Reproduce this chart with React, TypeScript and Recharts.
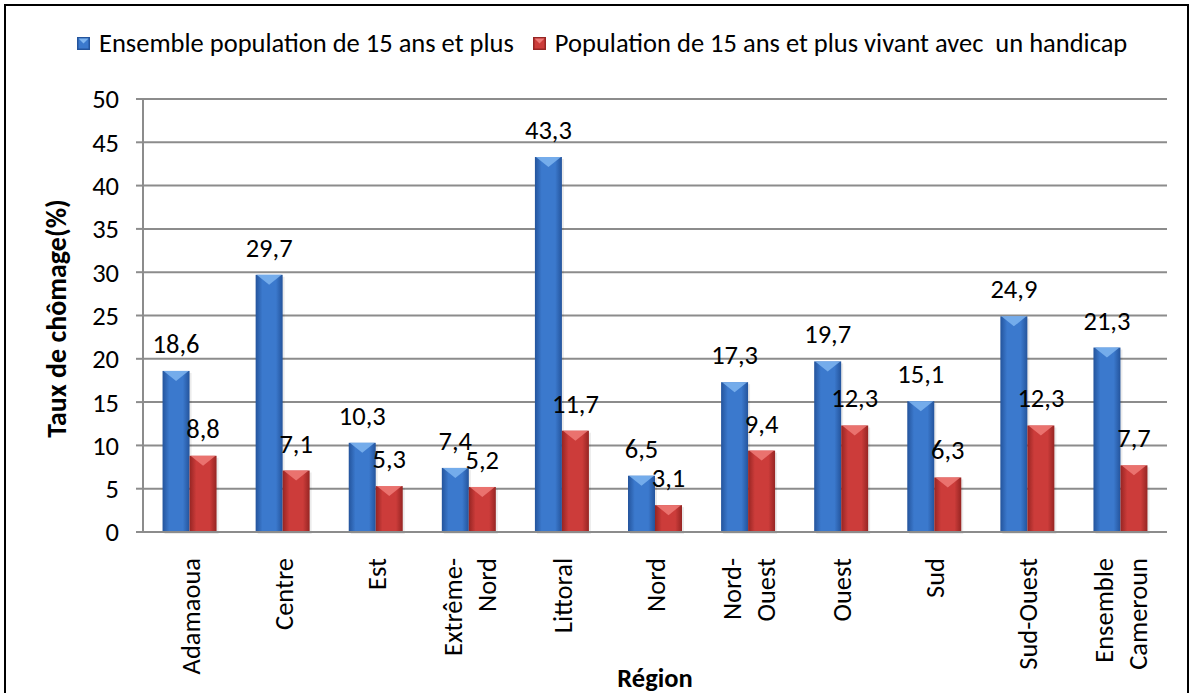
import React from "react";
import {
  BarChart,
  Bar,
  XAxis,
  YAxis,
  CartesianGrid,
  Legend,
  LabelList,
  Label,
} from "recharts";

// values
const regions = [
  "Adamaoua",
  "Centre",
  "Est",
  "Extrême-\nNord",
  "Littoral",
  "Nord",
  "Nord-\nOuest",
  "Ouest",
  "Sud",
  "Sud-Ouest",
  "Ensemble\nCameroun",
];
const ensemble = [18.6, 29.7, 10.3, 7.4, 43.3, 6.5, 17.3, 19.7, 15.1, 24.9, 21.3];
const handicap = [8.8, 7.1, 5.3, 5.2, 11.7, 3.1, 9.4, 12.3, 6.3, 12.3, 7.7];
const yTicks = [0, 5, 10, 15, 20, 25, 30, 35, 40, 45, 50];

const seriesNames = [
  "Ensemble population de 15 ans et plus",
  "Population de 15 ans et plus vivant avec  un handicap",
];

const data = regions.map((region, i) => ({
  region,
  ensemble: ensemble[i],
  handicap: handicap[i],
}));

const FONT = "Carlito, Calibri, Lato, sans-serif";
const FS = 26.5;
const GRID = "#8c8c8c";

const palettes: Record<string, { main: string; edge: string; light: string }> = {
  blue: { main: "#3b79cd", edge: "#24549c", light: "#7fb5f0" },
  red: { main: "#cc3c3a", edge: "#962523", light: "#ee7b78" },
};

const fmt = (v: number) => v.toFixed(1).replace(".", ",");

const BevelBar = (props: any) => {
  const { x, y, width, height, index, kind } = props;
  if (!height || height <= 0) return null;
  const p = palettes[kind];
  const id = `${kind}-${index}`;
  const tip = Math.min(10, height / 2);
  return (
    <g>
      <defs>
        <linearGradient id={`body-${id}`} x1="0" y1="0" x2="1" y2="0">
          <stop offset="0%" stopColor={p.edge} />
          <stop offset="25%" stopColor={p.main} />
          <stop offset="75%" stopColor={p.main} />
          <stop offset="100%" stopColor={p.edge} />
        </linearGradient>
      </defs>
      <rect x={x + 2} y={y + 2} width={width} height={height} fill="rgba(0,0,0,0.08)" />
      <rect x={x} y={y} width={width} height={height} fill={`url(#body-${id})`} />
      <polygon
        points={`${x + 1},${y} ${x + width - 1},${y} ${x + width / 2},${y + tip}`}
        fill={p.light}
        opacity={0.85}
      />
    </g>
  );
};

const RegionTick = (props: any) => {
  const { x, y, payload } = props;
  const lines = String(payload.value).split("\n");
  const first = 10 - ((lines.length - 1) * 34) / 2;
  return (
    <g transform={`translate(${x},${y})`}>
      <text transform="rotate(-90)" textAnchor="end" fontSize={FS} fill="#000" fontFamily={FONT}>
        {lines.map((l, i) => (
          <tspan key={i} x={-26} y={first + i * 34}>
            {l}
          </tspan>
        ))}
      </text>
    </g>
  );
};

const LegendIcon = ({ kind }: { kind: string }) => {
  const p = palettes[kind];
  return (
    <svg width={13} height={13} style={{ display: "block" }}>
      <rect x={0} y={0} width={13} height={13} fill={p.main} />
      <rect x={0.75} y={0.75} width={11.5} height={11.5} fill="none" stroke={p.edge} strokeWidth={1.5} />
      <polygon points="1.5,1.5 11.5,1.5 6.5,6.5" fill={p.light} />
    </svg>
  );
};

const renderLegend = (props: any) => {
  const items = props.payload || [];
  return (
    <div style={{ display: "flex", alignItems: "center", paddingLeft: 77, fontFamily: FONT, fontSize: FS, color: "#000" }}>
      {items.map((it: any, i: number) => (
        <div key={i} style={{ display: "flex", alignItems: "center", marginRight: 19 }}>
          <LegendIcon kind={it.dataKey === "ensemble" ? "blue" : "red"} />
          <span style={{ marginLeft: 9, whiteSpace: "pre" }}>{it.value}</span>
        </div>
      ))}
    </div>
  );
};

export default function App() {
  return (
    <div style={{ position: "absolute", left: 0, top: 0, width: 1192, height: 693, overflow: "hidden", background: "#fff" }}>
      <div
        style={{
          position: "absolute",
          left: 4,
          top: 4,
          width: 1185,
          height: 720,
          border: "2px solid #000",
          boxSizing: "border-box",
        }}
      />
      <div style={{ position: "absolute", left: 0, top: 0 }}>
        <BarChart
          width={1192}
          height={693}
          data={data}
          margin={{ top: 99, right: 25, bottom: 21, left: 83 }}
          barCategoryGap="21%"
          barGap={0}
        >
          <CartesianGrid vertical={false} stroke={GRID} strokeWidth={2} />
          <XAxis
            dataKey="region"
            interval={0}
            height={140}
            tickSize={0}
            tickMargin={0}
            tickLine={false}
            axisLine={{ stroke: GRID, strokeWidth: 2 }}
            tick={<RegionTick />}
          >
            <Label
              content={(lp: any) => {
                const vb = lp.viewBox || { x: 143, y: 532, width: 1024 };
                return (
                  <text
                    x={vb.x + vb.width / 2}
                    y={vb.y + 155}
                    textAnchor="middle"
                    fontFamily={FONT}
                    fontWeight="bold"
                    fontSize={FS}
                    fill="#000"
                  >
                    Région
                  </text>
                );
              }}
            />
          </XAxis>
          <YAxis
            domain={[0, 50]}
            ticks={yTicks}
            interval={0}
            width={60}
            tickSize={7}
            tickMargin={17}
            tickLine={{ stroke: GRID, strokeWidth: 2 }}
            axisLine={{ stroke: GRID, strokeWidth: 2 }}
            tick={{ fill: "#000", fontSize: FS, fontFamily: FONT }}
          >
            <Label
              content={(lp: any) => {
                const vb = lp.viewBox || { x: 83, y: 99, height: 433 };
                const cx = vb.x - 27;
                const cy = vb.y + vb.height / 2 + 3;
                return (
                  <text
                    x={cx}
                    y={cy}
                    transform={`rotate(-90, ${cx}, ${cy})`}
                    textAnchor="middle"
                    dominantBaseline="central"
                    fontFamily={FONT}
                    fontWeight="bold"
                    fontSize={28}
                    fill="#000"
                  >
                    Taux de chômage(%)
                  </text>
                );
              }}
            />
          </YAxis>
          <Legend
            verticalAlign="middle"
            align="center"
            layout="horizontal"
            content={renderLegend}
            wrapperStyle={{ top: 27, left: 0, width: 1192 }}
          />
          <Bar
            dataKey="ensemble"
            name={seriesNames[0]}
            fill={palettes.blue.main}
            isAnimationActive={false}
            shape={(p: any) => <BevelBar {...p} kind="blue" />}
          >
            <LabelList
              dataKey="ensemble"
              position="top"
              offset={18}
              formatter={(v: any) => fmt(Number(v))}
              style={{ fill: "#000", fontSize: FS, fontFamily: FONT }}
            />
          </Bar>
          <Bar
            dataKey="handicap"
            name={seriesNames[1]}
            fill={palettes.red.main}
            isAnimationActive={false}
            shape={(p: any) => <BevelBar {...p} kind="red" />}
          >
            <LabelList
              dataKey="handicap"
              position="top"
              offset={18}
              formatter={(v: any) => fmt(Number(v))}
              style={{ fill: "#000", fontSize: FS, fontFamily: FONT }}
            />
          </Bar>
        </BarChart>
      </div>
    </div>
  );
}
